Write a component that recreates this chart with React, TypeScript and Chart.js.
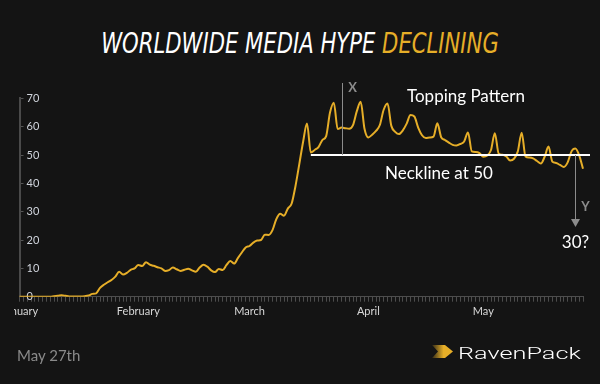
import React, { useEffect, useRef } from "react";
import { Chart, registerables } from "chart.js";

Chart.register(...registerables);

// ---- data ----
const MONTH_NAMES = ["January", "February", "March", "April", "May"];
const MONTH_DAYS = [31, 29, 31, 30, 27]; // 2020, through May 27th

const HYPE_VALUES = [
  0, 0, 0, 0, 0, 0, 0, 0, 0, 0.2, 0.3, 0.5, 0.3, 0.1, 0.1, 0.1, 0.1, 0.2, 0.4,
  1.0, 1.2, 3.1, 4.2, 5.1, 5.9, 7.1, 8.8, 7.8, 8.4, 9.5, 10.0, 11.2, 10.8, 12.2,
  11.3, 10.9, 10.4, 10.0, 9.1, 9.4, 10.3, 9.7, 9.1, 9.5, 9.9, 9.3, 8.8, 10.3,
  11.3, 10.6, 9.3, 8.7, 9.8, 9.4, 11.2, 12.6, 11.7, 13.7, 15.6, 17.4, 17.9,
  19.1, 19.8, 20.0, 21.9, 21.8, 23.5, 27.4, 29.3, 28.6, 31.1, 32.9, 39.1, 46.9,
  54.8, 61.1, 50.9, 51.8, 52.8, 55.3, 56.7, 65.0, 68.5, 59.2, 59.7, 59.5, 59.3,
  60.6, 65.5, 68.8, 59.3, 56.2, 57.2, 58.5, 60.6, 66.0, 68.2, 60.3, 58.2, 57.4,
  58.7, 61.1, 64.1, 63.6, 59.7, 57.0, 56.0, 56.2, 56.5, 61.2, 56.3, 55.3, 54.4,
  53.6, 53.4, 53.9, 54.8, 58.0, 51.3, 51.1, 50.7, 49.4, 49.8, 51.8, 57.7, 50.5,
  50.1, 49.5, 48.1, 48.7, 51.3, 57.9, 49.5, 49.1, 48.8, 47.9, 47.0, 49.4, 53.0,
  47.7, 47.2, 46.5, 45.8, 47.4, 51.3, 52.3, 49.9, 45.2,
];

const Y_TICKS_MAX = 70;
const Y_TICK_STEP = 10;
const NECKLINE_VALUE = 50;
const NECKLINE_START_DAY = 76;
const X_MARK_DAY = 84;
const Y_MARK_DAY = 145;

// category labels (one per day) and the month tick labels
const DAY_LABELS: string[] = [];
const MONTH_TICK: Record<number, string> = {};
MONTH_NAMES.forEach((m, mi) => {
  MONTH_TICK[DAY_LABELS.length] = m;
  for (let d = 1; d <= MONTH_DAYS[mi]; d++) DAY_LABELS.push(m + " " + d);
});

const GOLD = "#E6AE28";
const BG = "#141414";
const CANVAS_LEFT = 14; // page x of the canvas' left edge
const CANVAS_W = 586;

const cx = (pageX: number) => pageX - CANVAS_LEFT;

const annotations = {
  id: "hypeAnnotations",
  afterDatasetsDraw(chart: any) {
    const { ctx, scales } = chart;
    const xs = scales.x;
    const ys = scales.y;
    const yNeck = Math.round(ys.getPixelForValue(NECKLINE_VALUE));
    ctx.save();
    // neckline
    ctx.strokeStyle = "#ffffff";
    ctx.lineWidth = 2;
    ctx.beginPath();
    ctx.moveTo(xs.getPixelForValue(NECKLINE_START_DAY), yNeck);
    ctx.lineTo(chart.chartArea.right + 7, yNeck);
    ctx.stroke();

    // X marker
    const xX = Math.round(xs.getPixelForValue(X_MARK_DAY)) + 0.5;
    ctx.strokeStyle = "#8c8c8c";
    ctx.lineWidth = 1;
    ctx.beginPath();
    ctx.moveTo(xX, 83);
    ctx.lineTo(xX, yNeck);
    ctx.stroke();

    // Y arrow
    const xY = Math.round(xs.getPixelForValue(Y_MARK_DAY)) + 0.5;
    ctx.beginPath();
    ctx.moveTo(xY, yNeck);
    ctx.lineTo(xY, 220);
    ctx.stroke();
    ctx.fillStyle = "#8c8c8c";
    ctx.beginPath();
    ctx.moveTo(xY - 4.5, 219);
    ctx.lineTo(xY + 4.5, 219);
    ctx.lineTo(xY, 227);
    ctx.closePath();
    ctx.fill();

    ctx.font = "bold 13px Lato";
    ctx.textBaseline = "middle";
    ctx.textAlign = "center";
    ctx.fillStyle = "#8c8c8c";
    ctx.fillText("X", xX + 10, 88);
    ctx.fillText("Y", xY + 10, 207);

    ctx.fillStyle = "#ffffff";
    ctx.font = "17px Lato";
    ctx.fillText("30?", xY, 243);
    ctx.textAlign = "left";
    ctx.fillText("Topping Pattern", cx(407), 97);
    ctx.fillText("Neckline at 50", cx(385), 174);
    ctx.restore();
  },
};

export default function App() {
  const ref = useRef<HTMLCanvasElement | null>(null);
  useEffect(() => {
    document.body.style.margin = "0";
    document.body.style.background = BG;
    const chart = new Chart(ref.current!, {
      type: "line",
      data: {
        labels: DAY_LABELS,
        datasets: [
          {
            data: HYPE_VALUES,
            borderColor: GOLD,
            borderWidth: 2,
            pointRadius: 0,
            cubicInterpolationMode: "monotone",
            fill: false,
          },
        ],
      },
      options: {
        animation: false,
        responsive: false,
        maintainAspectRatio: false,
        events: [],
        layout: { padding: { left: 0, right: 17, top: 98.4, bottom: 57.3 } },
        plugins: { legend: { display: false }, tooltip: { enabled: false } },
        scales: {
          x: {
            type: "category",
            offset: false,
            afterFit: (s: any) => {
              s.height = 30;
              s.paddingLeft = 0;
              s.paddingRight = 0;
            },
            grid: {
              drawOnChartArea: false,
              drawTicks: true,
              tickLength: 5,
              color: "#4d4d4d",
            },
            border: { display: true, color: "#4d4d4d", width: 1 },
            ticks: {
              autoSkip: false,
              maxRotation: 0,
              minRotation: 0,
              padding: 3,
              color: "#d8d8d8",
              font: { family: "Lato", size: 11 },
              callback: (_v: any, i: number) => MONTH_TICK[i] ?? "",
            },
          },
          y: {
            min: 0,
            max: Y_TICKS_MAX,
            afterFit: (s: any) => {
              s.width = cx(19.5);
            },
            grid: {
              drawOnChartArea: false,
              drawTicks: true,
              tickLength: -4,
              color: "#555555",
            },
            border: { display: true, color: "#4a4a4a", width: 2 },
            ticks: {
              stepSize: Y_TICK_STEP,
              mirror: true,
              padding: 7,
              color: "#d0d4dc",
              font: { family: "Lato", size: 11 },
            },
          },
        },
      },
      plugins: [annotations],
    });
    return () => chart.destroy();
  }, []);

  return (
    <div
      style={{
        position: "fixed",
        left: 0,
        top: 0,
        width: 600,
        height: 384,
        background: BG,
        overflow: "hidden",
      }}
    >
      <div
        style={{
          position: "absolute",
          left: 0,
          top: 27,
          width: 600,
          textAlign: "center",
          fontFamily: "'DejaVu Sans Condensed', 'Liberation Sans Narrow', sans-serif",
          fontStyle: "italic",
          fontSize: 28,
          lineHeight: "normal",
          color: "#ffffff",
          whiteSpace: "nowrap",
          transform: "scaleX(0.84)",
          transformOrigin: "300px 0",
        }}
      >
        WORLDWIDE MEDIA HYPE <span style={{ color: GOLD }}>DECLINING</span>
      </div>
      <canvas
        ref={ref}
        width={CANVAS_W}
        height={384}
        style={{ position: "absolute", left: CANVAS_LEFT, top: 0, width: CANVAS_W, height: 384 }}
      />
      <div
        style={{
          position: "absolute",
          left: 17,
          top: 346,
          fontFamily: "Lato",
          fontSize: 15,
          color: "#8a8a8a",
          whiteSpace: "nowrap",
        }}
      >
        May 27th
      </div>
      <svg
        style={{ position: "absolute", left: 432, top: 345 }}
        width={21}
        height={13}
        viewBox="0 0 21 13"
      >
        <defs>
          <linearGradient id="chev" x1="0" x2="1" y1="0" y2="0">
            <stop offset="0" stopColor={GOLD} stopOpacity="0.15" />
            <stop offset="0.55" stopColor={GOLD} stopOpacity="1" />
            <stop offset="1" stopColor={GOLD} stopOpacity="1" />
          </linearGradient>
        </defs>
        <polygon points="0,0 13,0 21,6.5 13,13 0,13 6,6.5" fill="url(#chev)" />
      </svg>
      <div
        style={{
          position: "absolute",
          left: 458,
          top: 346,
          fontFamily: "Roboto",
          fontWeight: 300,
          fontSize: 16,
          lineHeight: "16px",
          color: "#ffffff",
          whiteSpace: "nowrap",
          transform: "scaleX(1.58)",
          transformOrigin: "0 0",
        }}
      >
        RavenPack
      </div>
    </div>
  );
}
